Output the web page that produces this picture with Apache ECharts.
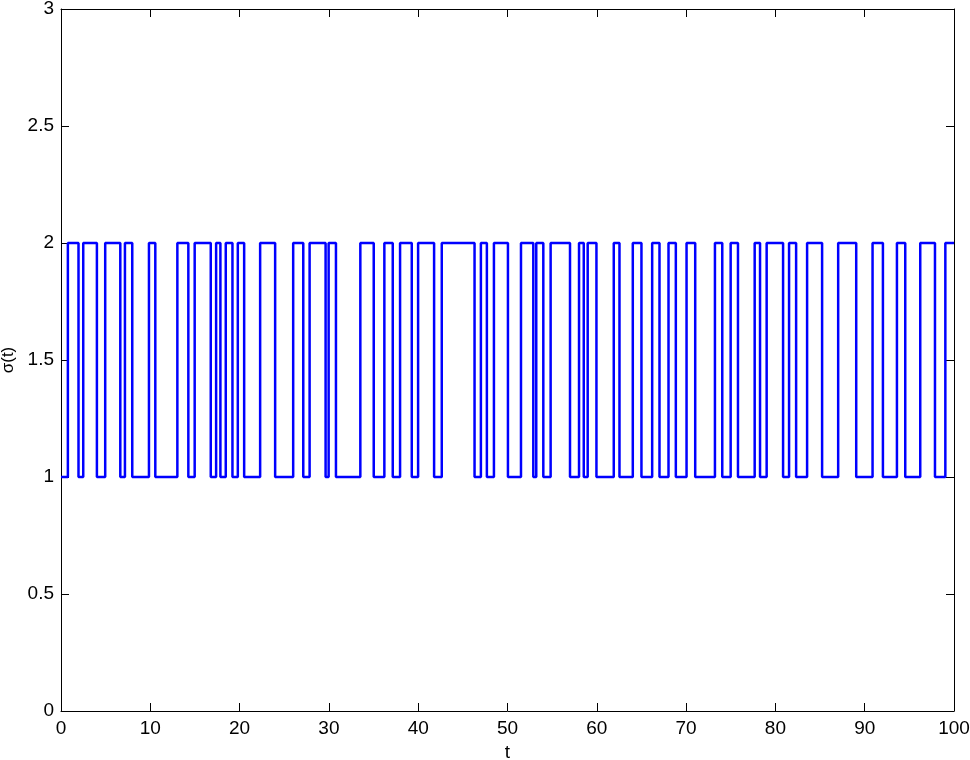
<!DOCTYPE html>
<html>
<head>
<meta charset="utf-8">
<title>σ(t)</title>
<script src="https://cdn.jsdelivr.net/npm/echarts@6/dist/echarts.min.js"></script>
<style>
	html,body{margin:0;padding:0;background:#fff;}
	#chart{width:970px;height:760px;}
</style>
</head>
<body>
<div id="chart"></div>
<script>
//切换时刻（含起点0和终点100）
const switchTimes = [0, 0.77, 1.96, 2.49, 4.02, 4.95, 6.64, 7.16, 7.98, 9.85, 10.56, 13.03, 14.26, 14.97,
	16.77, 17.37, 17.85, 18.45, 19.20, 19.80, 20.51, 22.30, 23.98, 26.00, 27.13, 27.84, 29.63, 29.97,
	30.79, 33.52, 35.02, 36.21, 37.15, 37.97, 39.28, 39.99, 41.78, 42.64, 46.31, 47.02, 47.69, 48.48,
	50.05, 51.51, 52.89, 53.22, 54.01, 54.83, 57.00, 58.01, 58.54, 58.98, 59.96, 61.90, 62.54, 64.03,
	65.00, 66.20, 67.02, 68.03, 68.85, 70.05, 71.02, 73.23, 74.05, 74.99, 75.81, 77.68, 78.28, 79.02,
	80.86, 81.53, 82.32, 83.55, 85.23, 87.03, 89.05, 90.88, 92.04, 93.61, 94.54, 96.22, 97.87, 99.03, 100];
//每个时刻之后的状态 σ(t)
const states = [1, 2, 1, 2, 1, 2, 1, 2, 1, 2, 1, 2, 1, 2,
	1, 2, 1, 2, 1, 2, 1, 2, 1, 2, 1, 2, 1, 2,
	1, 2, 1, 2, 1, 2, 1, 2, 1, 2, 1, 2, 1, 2,
	1, 2, 1, 2, 1, 2, 1, 2, 1, 2, 1, 2, 1, 2,
	1, 2, 1, 2, 1, 2, 1, 2, 1, 2, 1, 2, 1, 2,
	1, 2, 1, 2, 1, 2, 1, 2, 1, 2, 1, 2, 1, 2, 2];
//刻度
const xTicks = [0, 10, 20, 30, 40, 50, 60, 70, 80, 90, 100];
const yTicks = [0, 0.5, 1, 1.5, 2, 2.5, 3];

const font = 'Liberation Sans, Arial, sans-serif';
const seriesData = switchTimes.map(function (t, i) { return [t, states[i]]; });

function xAxisOf(pos, showLabel) {
	return {
		type: 'value', position: pos,
		min: xTicks[0], max: xTicks[xTicks.length - 1], interval: xTicks[1] - xTicks[0],
		name: showLabel ? 't' : '', nameLocation: 'middle', nameGap: 25,
		nameTextStyle: {color: '#000', fontFamily: font, fontSize: 19},
		axisLine: {show: true, onZero: false, lineStyle: {color: '#000', width: 1}},
		axisTick: {show: true, inside: true, length: 8, lineStyle: {color: '#000'}},
		axisLabel: {show: showLabel, color: '#000', fontFamily: font, fontSize: 19, margin: 8},
		splitLine: {show: false}
	};
}
function yAxisOf(pos, showLabel) {
	return {
		type: 'value', position: pos,
		min: yTicks[0], max: yTicks[yTicks.length - 1], interval: yTicks[1] - yTicks[0],
		name: showLabel ? 'σ(t)' : '', nameLocation: 'middle', nameGap: 42,
		nameTextStyle: {color: '#000', fontFamily: font, fontSize: 17},
		axisLine: {show: true, onZero: false, lineStyle: {color: '#000', width: 1}},
		axisTick: {show: true, inside: true, length: 8, lineStyle: {color: '#000'}},
		axisLabel: {show: showLabel, color: '#000', fontFamily: font, fontSize: 19, margin: 7},
		splitLine: {show: false}
	};
}

let myChart = echarts.init(document.getElementById('chart'));
myChart.setOption({
	animation: false,
	backgroundColor: '#fff',
	grid: {left: 61, right: 16, top: 9, bottom: 49, outerBoundsMode: 'none', containLabel: false},
	xAxis: [xAxisOf('bottom', true), xAxisOf('top', false)],
	yAxis: [yAxisOf('left', true), yAxisOf('right', false)],
	series: [{
		type: 'line',
		step: 'end',
		data: seriesData,
		showSymbol: false,
		lineStyle: {color: '#0000ff', width: 2.5},
		itemStyle: {color: '#0000ff'}
	}]
});
</script>
</body>
</html>
